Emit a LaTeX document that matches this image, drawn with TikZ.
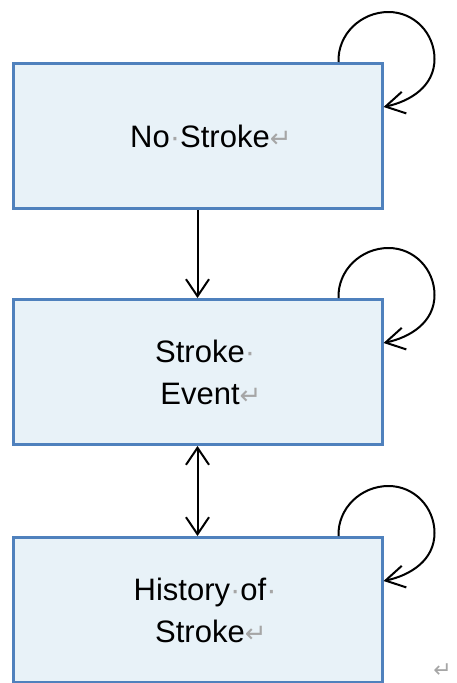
\documentclass[tikz,border=0pt]{standalone}
\usepackage{fontspec}
\setmainfont{Liberation Sans}
\newfontfamily\symfont{DejaVu Sans}
\usetikzlibrary{arrows.meta}

\definecolor{boxfill}{HTML}{E8F2F8}
\definecolor{boxline}{HTML}{4F81BD}
\definecolor{markgray}{HTML}{A6A6A6}

% formatting marks: space dot and paragraph return, not counted in centring
\newcommand{\spdot}{\textcolor{markgray}{·}}
\newcommand{\trdot}{\rlap{\textcolor{markgray}{·}}}
\newcommand{\parmark}{\rlap{\textcolor{markgray}{\symfont\fontsize{26}{26}\selectfont ↵}}}

\begin{document}
\begin{tikzpicture}[x=1pt,y=-1pt,
  statebox/.style={draw=boxline, line width=3pt, fill=boxfill,
    minimum width=369pt, minimum height=145pt, inner sep=0pt,
    align=center, font=\fontsize{31}{42}\selectfont},
  link/.style={line width=2pt, black},
  tip/.style={-{Straight Barb[length=17pt,width=23pt,line width=2pt]}},
  loop/.style={link, -{Straight Barb[length=19pt,width=22pt,line width=2pt]}}
]
\useasboundingbox (0,0) rectangle (456,683);

\node[statebox] (b1) at (197.5,136) {\hspace*{5pt}No\spdot Stroke\parmark};
\node[statebox] (b2) at (197.5,372) {\hspace*{5pt}Stroke\trdot\\\hspace*{5pt}Event\parmark};
\node[statebox] (b3) at (197.5,610) {\hspace*{5pt}History\spdot of\trdot\\\hspace*{5pt}Stroke\parmark};

\draw[link, tip] (b1.south) -- (b2.north);
\draw[link, {Straight Barb[length=17pt,width=23pt,line width=2pt]}-{Straight Barb[length=17pt,width=23pt,line width=2pt]}] (b2.south) -- (b3.north);

% self loops on the upper right corner of each box
\foreach \b in {b1,b2,b3}{
  \draw[loop] ([xshift=-45pt]\b.north east)
    to[out=92,in=180] ++(50,-50)
    to[out=0,in=90] ++(46,47)
    to[out=-90,in=12] ([yshift=-45pt]\b.north east);
}

\node[anchor=south east, inner sep=0pt, text=markgray, font=\symfont\fontsize{22}{22}\selectfont] (endmark) at (452,678) {↵};
\end{tikzpicture}
\end{document}
